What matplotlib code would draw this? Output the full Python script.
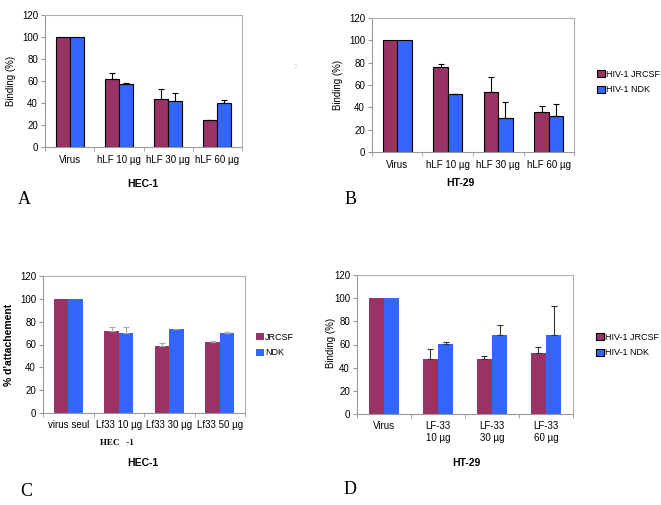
import matplotlib
matplotlib.use("Agg")
import matplotlib.pyplot as plt
import numpy as np
from matplotlib.patches import Patch

plt.rcParams['font.family'] = ['Liberation Sans', 'DejaVu Sans']

# ---------------- data ----------------
cats_A = ["Virus", "hLF 10 µg", "hLF 30 µg", "hLF 60 µg"]
jr_A = [100, 62, 44, 24.5]
jr_A_err = [0, 5.5, 9, 0.5]
ndk_A = [100, 57, 41.5, 40]
ndk_A_err = [0, 1.2, 7.5, 2.5]

cats_B = ["Virus", "hLF 10 µg", "hLF 30 µg", "hLF 60 µg"]
jr_B = [100, 76, 54, 36]
jr_B_err = [0, 2.5, 13, 5.5]
ndk_B = [100, 51.5, 30.5, 32]
ndk_B_err = [0, 0.5, 14.5, 11]

cats_C = ["virus seul", "Lf33 10 µg", "Lf33 30 µg", "Lf33 50 µg"]
jr_C = [100, 72, 59, 62]
jr_C_err = [0, 3, 2.5, 1.5]
ndk_C = [100, 70, 73.5, 70]
ndk_C_err = [0, 5, 0.5, 1]

cats_D = ["Virus", "LF-33\n10 µg", "LF-33\n30 µg", "LF-33\n60 µg"]
jr_D = [100, 47.5, 47.5, 53]
jr_D_err = [0, 9, 3, 4.5]
ndk_D = [100, 60.5, 68, 68]
ndk_D_err = [0, 1.5, 9, 25]

yticks = [0, 20, 40, 60, 80, 100, 120]
MAROON = "#993366"
BLUE = "#3366FF"

W, H = 661, 505
fig = plt.figure(figsize=(W / 100, H / 100), dpi=100)


def ax_px(l, t, r, b):
    return fig.add_axes([l / W, 1 - b / H, (r - l) / W, (b - t) / H])


def panel(ax, cats, jr, jre, ndk, ndke, edge, errc, pad=6):
    x = np.arange(len(cats))
    w = 0.285
    kw = dict(edgecolor="black", linewidth=0.8) if edge else dict(linewidth=0)
    ax.bar(x - w / 2, jr, w, color=MAROON, zorder=2, **kw)
    ax.bar(x + w / 2, ndk, w, color=BLUE, zorder=2, **kw)
    for xs, vals, errs in ((x - w / 2, jr, jre), (x + w / 2, ndk, ndke)):
        e = np.array(errs, dtype=float)
        m = e > 0
        ax.errorbar(xs[m], np.array(vals)[m], yerr=[np.zeros(m.sum()), e[m]],
                    fmt="none", ecolor=errc, elinewidth=0.8, capsize=2.5,
                    capthick=0.8, zorder=3)
    ax.set_xlim(-0.5, len(cats) - 0.5)
    ax.set_ylim(0, 120)
    ax.set_yticks(yticks)
    ax.set_xticks(x)
    ax.set_xticklabels(cats, fontsize=7)
    ax.set_xticks(np.arange(len(cats) + 1) - 0.5, minor=True)
    ax.tick_params(axis="x", which="major", length=0, pad=pad)
    ax.tick_params(axis="x", which="minor", length=3, color="#999999")
    ax.tick_params(axis="y", labelsize=7, length=3, color="#999999", pad=2)
    for s in ax.spines.values():
        s.set_color("#b0b0b0")
        s.set_linewidth(0.8)
    ax.spines["left"].set_color("#999999")
    ax.spines["bottom"].set_color("#999999")


LEG_KW = dict(fontsize=6.5, loc="center left", frameon=False,
              handlelength=0.85, handleheight=0.85, handletextpad=0.15,
              labelspacing=0.75, borderaxespad=0, borderpad=0)

# Panel A
axA = ax_px(45, 15, 242, 147)
panel(axA, cats_A, jr_A, jr_A_err, ndk_A, ndk_A_err, True, "black")
axA.set_ylabel("Binding (%)", fontsize=7, labelpad=4)
fig.text(143 / W, 1 - 184 / H, "HEC-1", fontsize=7.5, fontweight="bold",
         ha="center", va="center")
fig.text(18 / W, 1 - 199 / H, "A", fontsize=13, family="Liberation Serif",
         ha="left", va="center")
fig.text(295 / W, 1 - 66 / H, ":", fontsize=5, color="#666666",
         ha="center", va="center")

# Panel B
axB = ax_px(372, 18, 574, 152)
panel(axB, cats_B, jr_B, jr_B_err, ndk_B, ndk_B_err, True, "black")
axB.set_ylabel("Binding (%)", fontsize=7, labelpad=4)
fig.text(460 / W, 1 - 183 / H, "HT-29", fontsize=7.5, fontweight="bold",
         ha="center", va="center")
fig.text(345 / W, 1 - 200 / H, "B", fontsize=13, family="Liberation Serif",
         ha="left", va="center")
handles_AB = [Patch(facecolor=MAROON, edgecolor="black", linewidth=0.8),
              Patch(facecolor=BLUE, edgecolor="black", linewidth=0.8)]
fig.legend(handles_AB, ["HIV-1 JRCSF", "HIV-1 NDK"],
           bbox_to_anchor=(597 / W, 1 - 82 / H), **LEG_KW)

# Panel C
axC = ax_px(43, 276, 245, 413)
panel(axC, cats_C, jr_C, jr_C_err, ndk_C, ndk_C_err, False, "#aaaaaa", pad=5)
axC.set_ylabel("% d'attachement", fontsize=7.5, fontweight="bold", labelpad=4)
fig.text(117 / W, 1 - 443 / H, "HEC   -1", fontsize=6.5, fontweight="bold",
         family="Liberation Serif", ha="center", va="center")
fig.text(143 / W, 1 - 463 / H, "HEC-1", fontsize=7.5, fontweight="bold",
         ha="center", va="center")
fig.text(20 / W, 1 - 492 / H, "C", fontsize=13, family="Liberation Serif",
         ha="left", va="center")
handles_C = [Patch(facecolor=MAROON, linewidth=0),
             Patch(facecolor=BLUE, linewidth=0)]
fig.legend(handles_C, ["JRCSF", "NDK"],
           bbox_to_anchor=(256 / W, 1 - 345 / H), **LEG_KW)

# Panel D
axD = ax_px(357, 275, 573, 414)
panel(axD, cats_D, jr_D, jr_D_err, ndk_D, ndk_D_err, False, "#333333", pad=5)
fig.text(331 / W, 1 - 343 / H, "Binding (%)", fontsize=7, rotation=90,
         ha="center", va="center")
fig.text(466 / W, 1 - 463 / H, "HT-29", fontsize=7.5, fontweight="bold",
         ha="center", va="center")
fig.text(344 / W, 1 - 490 / H, "D", fontsize=13, family="Liberation Serif",
         ha="left", va="center")
fig.legend(handles_AB, ["HIV-1 JRCSF", "HIV-1 NDK"],
           bbox_to_anchor=(596 / W, 1 - 345 / H), **LEG_KW)

fig.savefig("out.png", dpi=100)
